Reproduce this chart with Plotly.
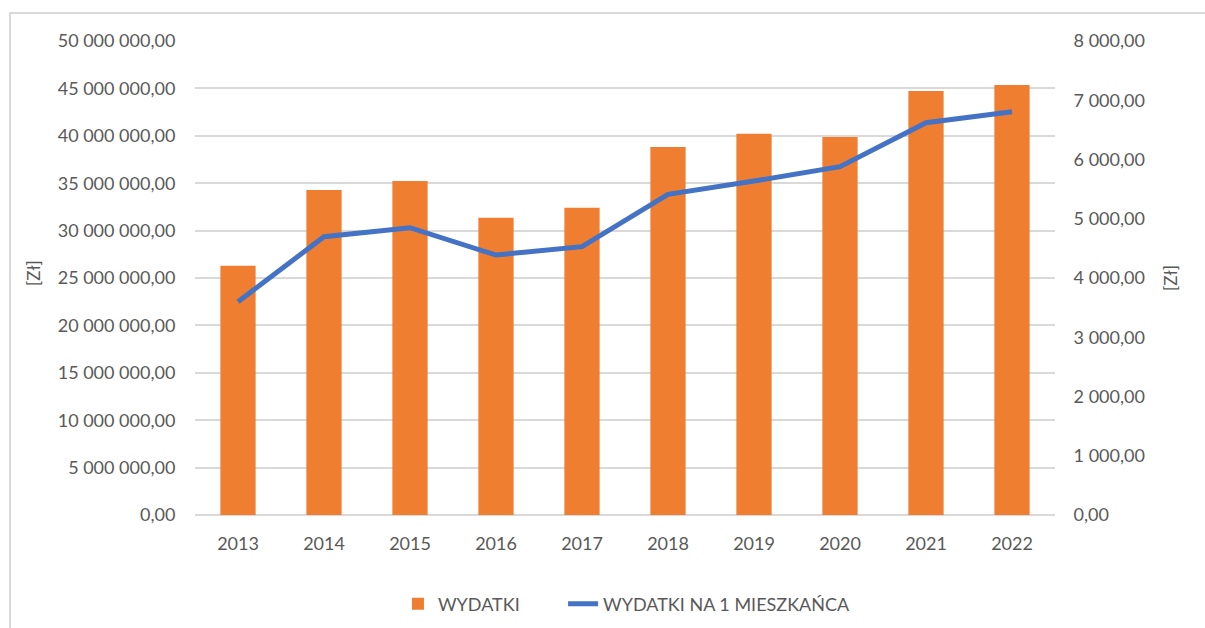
import plotly.graph_objects as go

# Annual spending data
years = ["2013", "2014", "2015", "2016", "2017", "2018", "2019", "2020", "2021", "2022"]
wydatki = [26.30e6, 34.28e6, 35.23e6, 31.36e6, 32.42e6, 38.82e6, 40.22e6, 39.87e6, 44.73e6, 45.36e6]
na_mieszkanca = [3600, 4697, 4849, 4388, 4529, 5412, 5637, 5879, 6622, 6807]

left_ticks = [0, 5e6, 10e6, 15e6, 20e6, 25e6, 30e6, 35e6, 40e6, 45e6, 50e6]
right_ticks = [0, 1000, 2000, 3000, 4000, 5000, 6000, 7000, 8000]

TEXT = "#595959"
GRID = "#D9D9D9"
FONT = "Lato"
FS = 18

fig = go.Figure()

fig.add_trace(go.Bar(
    x=years, y=wydatki, name="WYDATKI",
    marker=dict(color="#EF7E30", line=dict(width=0)),
    yaxis="y", legend="legend",
))

fig.add_trace(go.Scatter(
    x=years, y=na_mieszkanca, name="WYDATKI NA 1 MIESZKAŃCA",
    mode="lines", line=dict(color="#4472C4", width=5),
    yaxis="y2", legend="legend2",
))

legend_style = dict(orientation="h", y=-0.188, yanchor="middle", xanchor="left",
                    font=dict(family=FONT, size=FS, color=TEXT),
                    bgcolor="rgba(0,0,0,0)")

fig.update_layout(
    width=1205, height=628,
    margin=dict(l=195, r=150, t=41, b=113, autoexpand=False),
    paper_bgcolor="white", plot_bgcolor="white",
    separators=", ",
    font=dict(family=FONT, size=FS, color=TEXT),
    bargap=0.59,
    showlegend=True,
    legend=dict(x=0.236, **legend_style),
    legend2=dict(x=0.428, **legend_style),
    xaxis=dict(showgrid=False, ticks="outside", ticklen=12, tickcolor="rgba(0,0,0,0)",
               tickfont=dict(size=FS, color=TEXT),
               showline=False, zeroline=False, automargin=False),
    yaxis=dict(range=[0, 50e6], tickvals=left_ticks, tickformat=",.2f",
               showgrid=True, gridcolor=GRID, gridwidth=1.5,
               zeroline=True, zerolinecolor=GRID, zerolinewidth=1.5,
               ticks="outside", ticklen=15, tickcolor="rgba(0,0,0,0)",
               tickfont=dict(size=FS, color=TEXT), automargin=False),
    yaxis2=dict(range=[0, 8000], tickvals=right_ticks, tickformat=",.2f",
                overlaying="y", side="right", showgrid=False, zeroline=False,
                ticks="outside", ticklen=14, tickcolor="rgba(0,0,0,0)",
                tickfont=dict(size=FS, color=TEXT), automargin=False),
    annotations=[
        dict(text="[Zł]", xref="paper", yref="paper", x=-0.1884, y=0.5105,
             xanchor="center", yanchor="middle",
             textangle=-90, showarrow=False, font=dict(size=17, color=TEXT)),
        dict(text="[Zł]", xref="paper", yref="paper", x=1.1337, y=0.50,
             xanchor="center", yanchor="middle",
             textangle=-90, showarrow=False, font=dict(size=17, color=TEXT)),
    ],
    shapes=[
        dict(type="rect", xref="paper", yref="paper",
             x0=-0.2151, x1=1.19, y0=-0.28, y1=1.059,
             line=dict(color=GRID, width=2), layer="below"),
    ],
)

fig.write_html("out.html")
